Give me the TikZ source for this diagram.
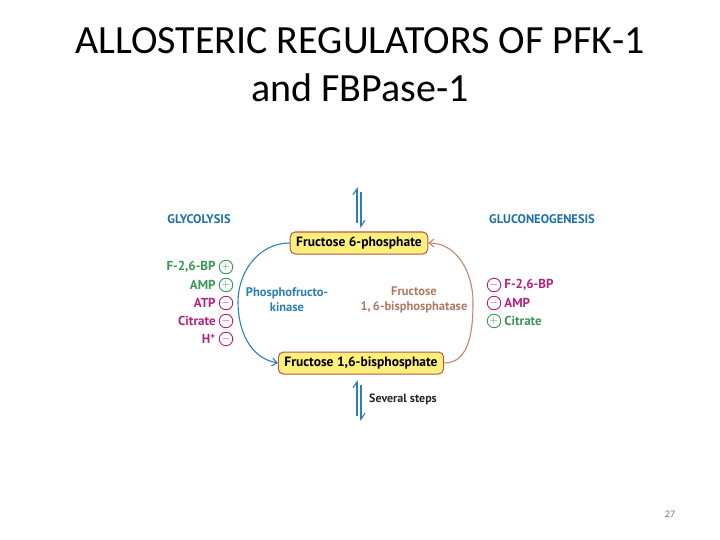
\documentclass[tikz,border=0pt]{standalone}
\usepackage{fontspec}
\setmainfont{Carlito}
\newfontfamily\figfont{PT Sans}
\usepackage{tikz}
\usetikzlibrary{positioning,arrows.meta}
\definecolor{glyblue}{HTML}{1F6FA8}
\definecolor{pfkblue}{HTML}{2A80B5}
\definecolor{fbptan}{HTML}{C4866C}
\definecolor{fbptext}{HTML}{B07A62}
\definecolor{actgreen}{HTML}{3A9557}
\definecolor{inhmag}{HTML}{B0237F}
\definecolor{boxfill}{HTML}{FFF07C}
\definecolor{boxline}{HTML}{B5574A}
\tikzset{
    metab/.style={draw=boxline, fill=boxfill, rounded corners=5pt, line width=1pt, font=\figfont\bfseries\fontsize{13.5}{15}\selectfont, minimum height=22pt, inner xsep=6pt},
    pathname/.style={font=\figfont\bfseries\fontsize{12.5}{14}\selectfont, text=glyblue},
    enz/.style={font=\figfont\bfseries\fontsize{12.5}{15}\selectfont, align=center},
    sign/.style={circle, draw, line width=0.9pt, minimum size=13.5pt, inner sep=0pt, font=\fontsize{11}{11}\selectfont},
    act/.style={sign, draw=actgreen, text=actgreen},
    inh/.style={sign, draw=inhmag, text=inhmag},
    reg/.style={font=\figfont\bfseries\fontsize{13}{14}\selectfont, inner sep=0pt},
    eqarr/.style={draw=pfkblue, line width=1.1pt, -{Straight Barb[left,length=6pt,width=8pt]}},
    node distance=3pt
}
\begin{document}
\begin{tikzpicture}[x=1pt,y=-1pt]
    \useasboundingbox (0,0) rectangle (720,540);

    \node[font=\fontsize{40}{48}\selectfont, anchor=base] (title1) at (360,54) {ALLOSTERIC REGULATORS OF PFK-1};
    \node[font=\fontsize{40}{48}\selectfont, anchor=base] (title2) at (360,102) {and FBPase-1};

    \node[metab] (f6p) at (359,243) {Fructose 6-phosphate};
    \node[metab] (f16bp) at (361,363) {Fructose 1,6-bisphosphate};

    % equilibrium arrows
    \coordinate (up1) at (357,223);
    \coordinate (up2) at (357,187);
    \coordinate (dn1) at (361,192);
    \coordinate (dn2) at (361,228);
    \draw[eqarr] (up1) -- (up2);
    \draw[eqarr] (dn1) -- (dn2);
    \coordinate (up3) at (357,416);
    \coordinate (up4) at (357,380);
    \coordinate (dn3) at (361,385);
    \coordinate (dn4) at (361,421);
    \draw[eqarr] (up3) -- (up4);
    \draw[eqarr] (dn3) -- (dn4);
    \node[font=\figfont\bfseries\fontsize{12}{14}\selectfont, anchor=west, inner sep=0pt, text=black!85] (steps) at (369,399) {Several steps};

    % the two enzymes
    \coordinate (lmid) at (238,302);
    \coordinate (rmid) at (473,302);
    \draw[pfkblue, line width=1.1pt, -{Straight Barb[length=5pt,width=8pt]}]
        (f6p.west) to[out=180,in=90] (lmid) to[out=-90,in=170] (f16bp.west);
    \draw[fbptan, line width=1.1pt, -{Straight Barb[length=5pt,width=8pt]}]
        (f16bp.east) to[out=0,in=-90] (rmid) to[out=90,in=0] (f6p.east);
    \node[enz, text=pfkblue] (pfk) at (287,300) {Phosphofructo-\\kinase};
    \node[enz, text=fbptext] (fbp) at (414,300) {Fructose\\1,\,6-bisphosphatase};

    \node[pathname] (gly) at (199,219) {GLYCOLYSIS};
    \node[pathname] (gng) at (542,219) {GLUCONEOGENESIS};

    % regulators of PFK-1
    \node[act] (l1) at (226,267) {$+$};
    \node[reg, text=actgreen, left=of l1] {F-2,6-BP};
    \node[act] (l2) at (226,285) {$+$};
    \node[reg, text=actgreen, left=of l2] {AMP};
    \node[inh] (l3) at (226,303) {$-$};
    \node[reg, text=inhmag, left=of l3] {ATP};
    \node[inh] (l4) at (226,321) {$-$};
    \node[reg, text=inhmag, left=of l4] {Citrate};
    \node[inh] (l5) at (226,339) {$-$};
    \node[reg, text=inhmag, left=of l5] {H\textsuperscript{+}};

    % regulators of FBPase-1
    \node[inh] (r1) at (494,285) {$-$};
    \node[reg, text=inhmag, right=of r1] {F-2,6-BP};
    \node[inh] (r2) at (494,303) {$-$};
    \node[reg, text=inhmag, right=of r2] {AMP};
    \node[act] (r3) at (494,321) {$+$};
    \node[reg, text=actgreen, right=of r3] {Citrate};

    \node[font=\fontsize{10}{12}\selectfont, text=black!55] (page) at (670,514) {27};
\end{tikzpicture}
\end{document}
